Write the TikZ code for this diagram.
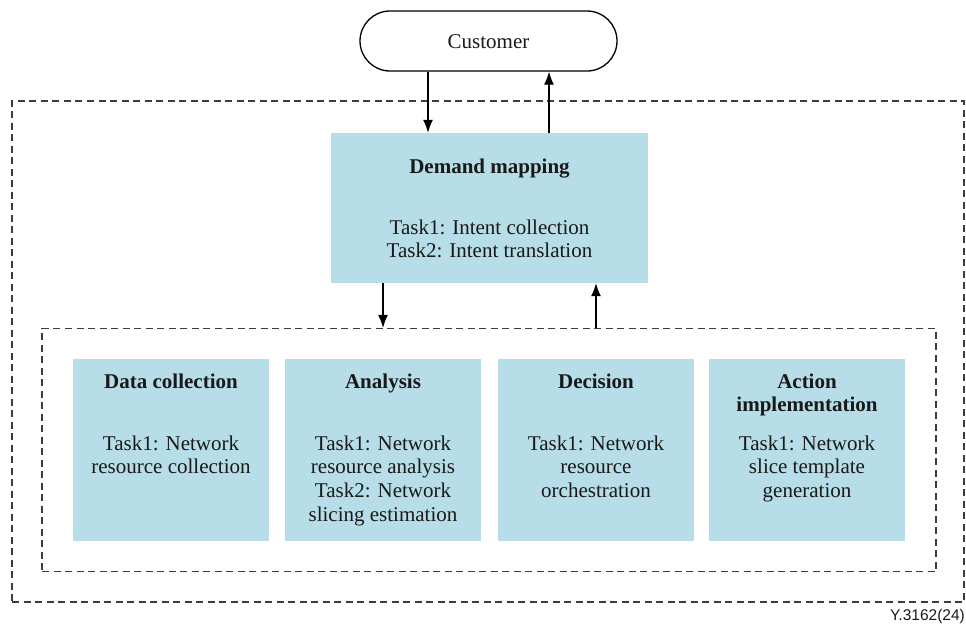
\documentclass[tikz,border=0pt]{standalone}
\usepackage{fontspec}
\setmainfont{Liberation Serif}
\newfontfamily\labelfont{Liberation Sans}
\usetikzlibrary{arrows.meta}
\definecolor{boxblue}{RGB}{183,221,232}
\definecolor{dashgray}{RGB}{60,60,60}
\definecolor{textdark}{RGB}{25,25,25}
\begin{document}
\begin{tikzpicture}[x=1pt,y=-1pt,
  fbox/.style={draw=none, fill=boxblue, inner sep=0, minimum width=196pt, minimum height=182pt},
  dbox/.style={draw=dashgray, line width=1.2pt, dash pattern=on 7pt off 4.5pt, inner sep=0},
  arr/.style={-{Latex[length=13pt,width=10pt]}, line width=1.2pt},
  txt/.style={anchor=base, inner sep=0, text=textdark, font=\fontsize{21}{23.8}\selectfont},
  ttl/.style={txt, font=\fontsize{21}{23.8}\selectfont\bfseries}]
\useasboundingbox (0,0) rectangle (966,624);
% outer dashed frame
\node[dbox, minimum width=952pt, minimum height=501pt] (outer) at (488,351.5) {};
% customer
\node[draw, line width=1.3pt, fill=white, rounded corners=30pt, minimum width=257pt, minimum height=60pt, inner sep=0] (cust) at (488.5,41) {};
\node[txt] (custt) at (488.5,48) {Customer};
% demand mapping
\node[fbox, minimum width=317pt, minimum height=150pt] (dm) at (489.5,208) {};
\node[ttl] (dmt) at (489.5,173) {Demand mapping};
\node[txt] (dmk) at (489.5,234) {\begin{tabular}[t]{@{}c@{}}Task1: Intent collection\\Task2: Intent translation\end{tabular}};
% inner dashed frame
\node[dbox, minimum width=894pt, minimum height=243pt] (inner) at (489,450) {};
% four boxes
\node[fbox] (b1) at (171,450) {};
\node[fbox] (b2) at (383,450) {};
\node[fbox] (b3) at (596,450) {};
\node[fbox] (b4) at (807,450) {};
\node[ttl] (b1t) at (171,388) {Data collection};
\node[ttl] (b2t) at (383,388) {Analysis};
\node[ttl] (b3t) at (596,388) {Decision};
\node[ttl] (b4t) at (807,388) {\begin{tabular}[t]{@{}c@{}}Action\\implementation\end{tabular}};
\node[txt] (b1k) at (171,450) {\begin{tabular}[t]{@{}c@{}}Task1: Network\\resource collection\end{tabular}};
\node[txt] (b2k) at (383,450) {\begin{tabular}[t]{@{}c@{}}Task1: Network\\resource analysis\\Task2: Network\\slicing estimation\end{tabular}};
\node[txt] (b3k) at (596,450) {\begin{tabular}[t]{@{}c@{}}Task1: Network\\resource\\orchestration\end{tabular}};
\node[txt] (b4k) at (807,450) {\begin{tabular}[t]{@{}c@{}}Task1: Network\\slice template\\generation\end{tabular}};
% connectors
\draw[arr] ([xshift=-60.5pt]cust.south) -- ([xshift=-60.5pt]cust.south |- dm.north);
\draw[arr] ([xshift=60.5pt]cust.south |- dm.north) -- ([xshift=60.5pt]cust.south);
\draw[arr] (dm.south -| b2) -- (inner.north -| b2);
\draw[arr] (inner.north -| b3) -- (dm.south -| b3);
% figure label
\node[anchor=east, inner sep=0, text=textdark, font=\labelfont\fontsize{15.5}{18}\selectfont] (fig) at (965,616) {Y.3162(24)};
\end{tikzpicture}
\end{document}
